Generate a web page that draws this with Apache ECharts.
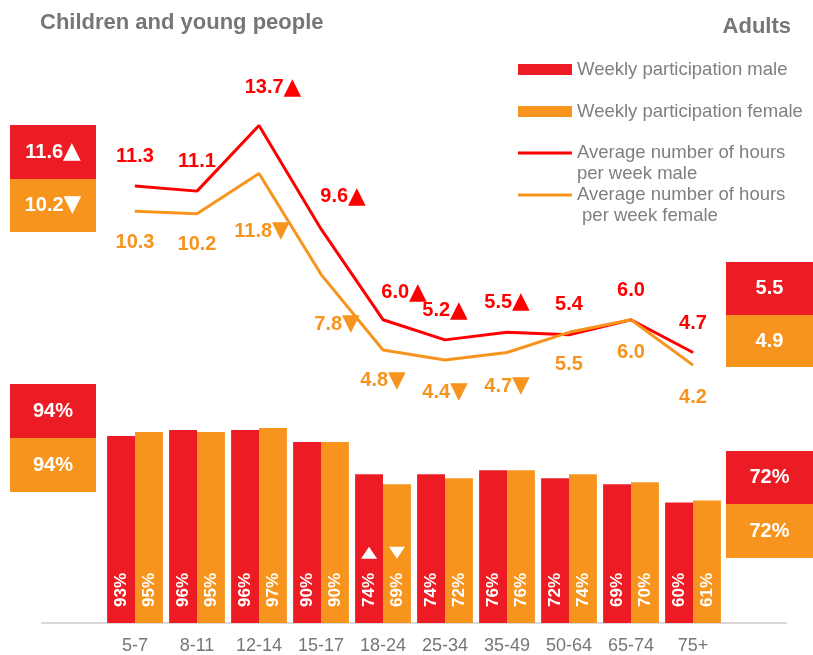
<!DOCTYPE html>
<html>
<head>
<meta charset="utf-8">
<script src="https://cdn.jsdelivr.net/npm/echarts@6/dist/echarts.min.js"></script>
<style>
html, body { margin: 0; padding: 0; background: #fff; }
#chart { width: 813px; height: 655px; }
</style>
</head>
<body>
<div id="chart"></div>
<script>
// age groups on the x axis
var ageGroups = ['5-7', '8-11', '12-14', '15-17', '18-24', '25-34', '35-49', '50-64', '65-74', '75+'];

// weekly participation (%)
var partMale = [93, 96, 96, 90, 74, 74, 76, 72, 69, 60];
var partFemale = [95, 95, 97, 90, 69, 72, 76, 74, 70, 61];
var partMaleSig = ['', '', '', '', 'up', '', '', '', '', ''];
var partFemaleSig = ['', '', '', '', 'down', '', '', '', '', ''];

// average number of hours per week
var hoursMale = [11.3, 11.1, 13.7, 9.6, 6.0, 5.2, 5.5, 5.4, 6.0, 4.7];
var hoursFemale = [10.3, 10.2, 11.8, 7.8, 4.8, 4.4, 4.7, 5.5, 6.0, 4.2];
var hoursMaleSig = ['', '', 'up', 'up', 'up', 'up', 'up', '', '', ''];
var hoursFemaleSig = ['', '', 'down', 'down', 'down', 'down', 'down', '', '', ''];

// summary boxes [male, female]
var childHours = [11.6, 10.2];
var childHoursSig = ['up', 'down'];
var adultHours = [5.5, 4.9];
var adultHoursSig = ['', ''];
var childPart = [94, 94];
var adultPart = [72, 72];

// label offsets (px) for the hours labels
var maleLabelOffset = [[0, -30], [0, -30], [14, -38], [22, -32], [21, -27], [0, -29], [0, -30], [0, -30], [0, -29], [0, -29]];
var femaleLabelOffset = [[0, 31], [0, 31], [3, 58], [16, 50], [0, 31], [0, 32], [0, 34], [0, 32], [0, 33], [0, 32]];

var RED = '#ED1C24';
var ORANGE = '#F7941D';
var LINE_RED = '#FF0000';
var GREY = '#767676';
var FONT = '"Liberation Sans", Arial, sans-serif';
var ARROW = { up: '\u25B2', down: '\u25BC', '': '' };
var arrowStyle = { fontSize: 23, fontFamily: '"DejaVu Sans"' };

// blank categories either side leave room for the summary boxes
var cats = [''].concat(ageGroups).concat([' ']);
function pad(arr) { return [null].concat(arr).concat([null]); }

function withArrow(text, sig) {
    return text + (sig ? '{a|' + ARROW[sig] + '}' : '');
}

function hoursData(values, sig, offsets) {
    return pad(values.map(function (v, i) {
        return {
            value: v,
            label: {
                offset: offsets[i],
                formatter: withArrow(v.toFixed(1), sig[i])
            }
        };
    }));
}

function sigMarks(sig) {
    var out = [];
    sig.forEach(function (s, i) {
        if (!s) return;
        out.push({
            coord: [ageGroups[i], 35],
            symbol: 'triangle',
            symbolSize: [16, 12],
            symbolRotate: s === 'down' ? 180 : 0,
            itemStyle: { color: '#fff' },
            label: { show: false }
        });
    });
    return out;
}

function box(x, y, w, h, fill, text) {
    return {
        type: 'group',
        x: x,
        y: y,
        children: [
            { type: 'rect', shape: { x: 0, y: 0, width: w, height: h }, style: { fill: fill } },
            {
                type: 'text', x: w / 2, y: h / 2,
                style: {
                    text: text, fill: '#fff', fontSize: 20, fontWeight: 'bold', fontFamily: FONT,
                    align: 'center', verticalAlign: 'middle',
                    rich: { a: { fill: '#fff', fontSize: 23, fontFamily: '"DejaVu Sans"' } }
                }
            }
        ]
    };
}

// line icon drawn at the top of a taller icon box so it sits level with the first text line
var lineIcon = 'path://M0,0H54V3H0Z M0,24H0.05V24.05H0Z';

var legendText = { color: '#7f7f7f', fontSize: 18.5, fontFamily: FONT };
var legendText2 = { color: '#7f7f7f', fontSize: 18.5, fontFamily: FONT, lineHeight: 21 };

var nameMaleBar = 'Weekly participation male';
var nameFemaleBar = 'Weekly participation female';
var nameMaleLine = 'Average number of hours\nper week male';
var nameFemaleLine = 'Average number of hours\n per week female';

var myChart = echarts.init(document.getElementById('chart'));

myChart.setOption({
    animation: false,
    textStyle: { fontFamily: FONT },
    title: [
        { text: 'Children and young people', left: 40, top: 12, padding: 0,
          textStyle: { color: GREY, fontSize: 22, fontWeight: 'bold', fontFamily: FONT } },
        { text: 'Adults', right: 22, top: 16, padding: 0,
          textStyle: { color: GREY, fontSize: 22, fontWeight: 'bold', fontFamily: FONT } }
    ],
    legend: [
        { data: [nameMaleBar], left: 518, top: 60, padding: 0, itemWidth: 54, itemHeight: 11, icon: 'rect', selectedMode: false, textStyle: legendText },
        { data: [nameFemaleBar], left: 518, top: 102, padding: 0, itemWidth: 54, itemHeight: 11, icon: 'rect', selectedMode: false, textStyle: legendText },
        { data: [nameMaleLine], left: 518, top: 142.5, padding: 0, itemWidth: 54, itemHeight: 24, icon: lineIcon, selectedMode: false, textStyle: legendText2 },
        { data: [nameFemaleLine], left: 518, top: 184.5, padding: 0, itemWidth: 54, itemHeight: 24, icon: lineIcon, selectedMode: false, textStyle: legendText2 }
    ],
    grid: [
        { left: 42, right: 27, top: 118, bottom: 184 },   // hours lines
        { left: 42, right: 27, top: 422, bottom: 32 }     // participation bars
    ],
    xAxis: [
        { type: 'category', gridIndex: 0, data: cats, show: false },
        {
            type: 'category', gridIndex: 1, data: cats,
            axisTick: { show: false },
            axisLine: { lineStyle: { color: '#d9d9d9', width: 2 } },
            axisLabel: { color: GREY, fontSize: 18, margin: 14, fontFamily: FONT }
        }
    ],
    yAxis: [
        { type: 'value', gridIndex: 0, min: 0, max: 14, show: false },
        { type: 'value', gridIndex: 1, min: 0, max: 100, show: false }
    ],
    graphic: [
        box(10, 125, 86, 54, RED, withArrow(childHours[0].toFixed(1), childHoursSig[0])),
        box(10, 179, 86, 53, ORANGE, withArrow(childHours[1].toFixed(1), childHoursSig[1])),
        box(726, 262, 87, 53, RED, withArrow(adultHours[0].toFixed(1), adultHoursSig[0])),
        box(726, 315, 87, 52, ORANGE, withArrow(adultHours[1].toFixed(1), adultHoursSig[1])),
        box(10, 384, 86, 54, RED, childPart[0] + '%'),
        box(10, 438, 86, 54, ORANGE, childPart[1] + '%'),
        box(726, 451, 87, 53, RED, adultPart[0] + '%'),
        box(726, 504, 87, 54, ORANGE, adultPart[1] + '%')
    ],
    series: [
        {
            name: nameMaleBar, type: 'bar', xAxisIndex: 1, yAxisIndex: 1,
            data: pad(partMale), barGap: '0%', barCategoryGap: '10%',
            itemStyle: { color: RED },
            label: {
                show: true, position: 'insideBottom', distance: 16, rotate: 90,
                align: 'left', verticalAlign: 'middle', formatter: '{c}%',
                color: '#fff', fontSize: 17, fontWeight: 'bold', fontFamily: FONT
            },
            markPoint: { data: sigMarks(partMaleSig) }
        },
        {
            name: nameFemaleBar, type: 'bar', xAxisIndex: 1, yAxisIndex: 1,
            data: pad(partFemale), barGap: '0%', barCategoryGap: '10%',
            itemStyle: { color: ORANGE },
            label: {
                show: true, position: 'insideBottom', distance: 16, rotate: 90,
                align: 'left', verticalAlign: 'middle', formatter: '{c}%',
                color: '#fff', fontSize: 17, fontWeight: 'bold', fontFamily: FONT
            },
            markPoint: { data: sigMarks(partFemaleSig) }
        },
        {
            name: nameMaleLine, type: 'line', xAxisIndex: 0, yAxisIndex: 0,
            data: hoursData(hoursMale, hoursMaleSig, maleLabelOffset),
            color: LINE_RED,
            symbol: 'circle', symbolSize: 1, showSymbol: true,
            lineStyle: { color: LINE_RED, width: 3 },
            itemStyle: { color: LINE_RED },
            label: {
                show: true, position: 'inside', color: LINE_RED,
                fontSize: 20, fontWeight: 'bold', fontFamily: FONT,
                rich: { a: { color: LINE_RED, fontSize: arrowStyle.fontSize, fontFamily: arrowStyle.fontFamily } }
            }
        },
        {
            name: nameFemaleLine, type: 'line', xAxisIndex: 0, yAxisIndex: 0,
            data: hoursData(hoursFemale, hoursFemaleSig, femaleLabelOffset),
            color: ORANGE,
            symbol: 'circle', symbolSize: 1, showSymbol: true,
            lineStyle: { color: ORANGE, width: 3 },
            itemStyle: { color: ORANGE },
            label: {
                show: true, position: 'inside', color: ORANGE,
                fontSize: 20, fontWeight: 'bold', fontFamily: FONT,
                rich: { a: { color: ORANGE, fontSize: arrowStyle.fontSize, fontFamily: arrowStyle.fontFamily } }
            }
        }
    ]
});

window.addEventListener('resize', myChart.resize);
</script>
</body>
</html>
